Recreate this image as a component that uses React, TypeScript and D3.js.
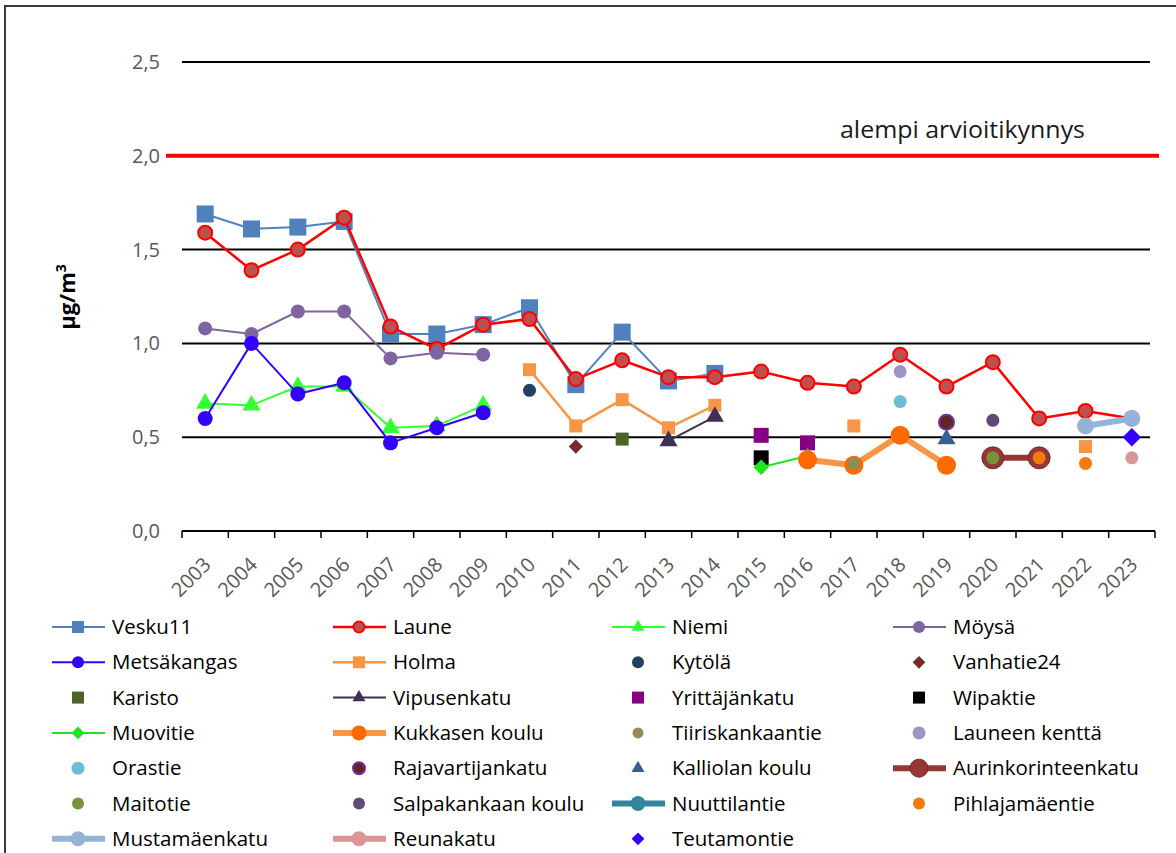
import React from 'react'
import * as d3 from 'd3'

type Val = number | null
const _ = null

const years = ['2003','2004','2005','2006','2007','2008','2009','2010','2011','2012','2013','2014','2015','2016','2017','2018','2019','2020','2021','2022','2023']
const yTicks = [0, 0.5, 1.0, 1.5, 2.0, 2.5]
const threshold = 2.0
const thresholdLabel = 'alempi arvioitikynnys'

// values per year, 2003..2023
const vesku11: Val[] = [1.69,1.61,1.62,1.65,1.05,1.05,1.10,1.19,0.78,1.06,0.80,0.84,_,_,_,_,_,_,_,_,_]
const laune: Val[] = [1.59,1.39,1.50,1.67,1.09,0.97,1.10,1.13,0.81,0.91,0.82,0.82,0.85,0.79,0.77,0.94,0.77,0.90,0.60,0.64,0.60]
const niemi: Val[] = [0.68,0.67,0.77,0.77,0.55,0.56,0.67,_,_,_,_,_,_,_,_,_,_,_,_,_,_]
const moysa: Val[] = [1.08,1.05,1.17,1.17,0.92,0.95,0.94,_,_,_,_,_,_,_,_,_,_,_,_,_,_]
const metsakangas: Val[] = [0.60,1.00,0.73,0.79,0.47,0.55,0.63,_,_,_,_,_,_,_,_,_,_,_,_,_,_]
const holma: Val[] = [_,_,_,_,_,_,_,0.86,0.56,0.70,0.55,0.67,_,_,0.56,_,_,_,_,0.45,_]
const kytola: Val[] = [_,_,_,_,_,_,_,0.75,_,_,_,_,_,_,_,_,_,_,_,_,_]
const vanhatie24: Val[] = [_,_,_,_,_,_,_,_,0.45,_,_,_,_,_,_,_,_,_,_,_,_]
const karisto: Val[] = [_,_,_,_,_,_,_,_,_,0.49,_,_,_,_,_,_,_,_,_,_,_]
const vipusenkatu: Val[] = [_,_,_,_,_,_,_,_,_,_,0.48,0.61,_,_,_,_,_,_,_,_,_]
const yrittajankatu: Val[] = [_,_,_,_,_,_,_,_,_,_,_,_,0.51,0.47,_,_,_,_,_,_,_]
const wipaktie: Val[] = [_,_,_,_,_,_,_,_,_,_,_,_,0.39,_,_,_,_,_,_,_,_]
const muovitie: Val[] = [_,_,_,_,_,_,_,_,_,_,_,_,0.34,0.40,_,_,_,_,_,_,_]
const kukkasen: Val[] = [_,_,_,_,_,_,_,_,_,_,_,_,_,0.38,0.35,0.51,0.35,_,_,_,_]
const tiiriskankaantie: Val[] = [_,_,_,_,_,_,_,_,_,_,_,_,_,_,0.36,_,_,_,_,_,_]
const launeenKentta: Val[] = [_,_,_,_,_,_,_,_,_,_,_,_,_,_,_,0.85,_,_,_,_,_]
const orastie: Val[] = [_,_,_,_,_,_,_,_,_,_,_,_,_,_,_,0.69,_,_,_,_,_]
const rajavartijankatu: Val[] = [_,_,_,_,_,_,_,_,_,_,_,_,_,_,_,_,0.58,_,_,_,_]
const kalliolanKoulu: Val[] = [_,_,_,_,_,_,_,_,_,_,_,_,_,_,_,_,0.49,_,_,_,_]
const aurinkorinteenkatu: Val[] = [_,_,_,_,_,_,_,_,_,_,_,_,_,_,_,_,_,0.39,0.39,_,_]
const maitotie: Val[] = [_,_,_,_,_,_,_,_,_,_,_,_,_,_,_,_,_,0.39,_,_,_]
const salpakankaan: Val[] = [_,_,_,_,_,_,_,_,_,_,_,_,_,_,_,_,_,0.59,_,_,_]
const nuuttilantie: Val[] = [_,_,_,_,_,_,_,_,_,_,_,_,_,_,_,_,_,_,_,_,_]
const pihlajamaentie: Val[] = [_,_,_,_,_,_,_,_,_,_,_,_,_,_,_,_,_,_,0.39,0.36,_]
const mustamaenkatu: Val[] = [_,_,_,_,_,_,_,_,_,_,_,_,_,_,_,_,_,_,_,0.56,0.60]
const reunakatu: Val[] = [_,_,_,_,_,_,_,_,_,_,_,_,_,_,_,_,_,_,_,_,0.39]
const teutamontie: Val[] = [_,_,_,_,_,_,_,_,_,_,_,_,_,_,_,_,_,_,_,_,0.50]

type Marker = 'square' | 'circle' | 'triangle' | 'diamond'
interface Series {
  name: string
  values: Val[]
  color: string
  line: number
  marker: Marker
  size: number
  legendSize: number
  fill: string
  stroke?: string
  strokeWidth?: number
}

const series: Series[] = [
  { name: 'Vesku11', values: vesku11, color: '#4F81BD', line: 2, marker: 'square', size: 17, legendSize: 12, fill: '#4F81BD' },
  { name: 'Laune', values: laune, color: '#FF0000', line: 2.5, marker: 'circle', size: 14, legendSize: 11, fill: '#C0504D', stroke: '#FF0000', strokeWidth: 2 },
  { name: 'Niemi', values: niemi, color: '#33FF33', line: 2, marker: 'triangle', size: 18, legendSize: 13, fill: '#33FF33' },
  { name: 'Möysä', values: moysa, color: '#8064A2', line: 2, marker: 'circle', size: 14, legendSize: 12, fill: '#8064A2' },
  { name: 'Metsäkangas', values: metsakangas, color: '#3300FF', line: 2, marker: 'circle', size: 15, legendSize: 12, fill: '#3300FF' },
  { name: 'Holma', values: holma, color: '#F79646', line: 2.5, marker: 'square', size: 13, legendSize: 12, fill: '#F79646' },
  { name: 'Kytölä', values: kytola, color: '#254061', line: 0, marker: 'circle', size: 13, legendSize: 12, fill: '#254061' },
  { name: 'Vanhatie24', values: vanhatie24, color: '#772C2A', line: 0, marker: 'diamond', size: 10, legendSize: 9, fill: '#772C2A' },
  { name: 'Karisto', values: karisto, color: '#4F6228', line: 0, marker: 'square', size: 13, legendSize: 12, fill: '#4F6228' },
  { name: 'Vipusenkatu', values: vipusenkatu, color: '#403152', line: 2, marker: 'triangle', size: 18, legendSize: 13, fill: '#403152' },
  { name: 'Yrittäjänkatu', values: yrittajankatu, color: '#860086', line: 0, marker: 'square', size: 15, legendSize: 12, fill: '#860086' },
  { name: 'Wipaktie', values: wipaktie, color: '#000000', line: 0, marker: 'square', size: 15, legendSize: 12, fill: '#000000' },
  { name: 'Muovitie', values: muovitie, color: '#1EE61E', line: 2, marker: 'diamond', size: 11, legendSize: 9, fill: '#1EE61E' },
  { name: 'Kukkasen koulu', values: kukkasen, color: '#F79646', line: 6, marker: 'circle', size: 19, legendSize: 15, fill: '#FF6A00' },
  { name: 'Tiiriskankaantie', values: tiiriskankaantie, color: '#948A54', line: 0, marker: 'circle', size: 13, legendSize: 11, fill: '#948A54' },
  { name: 'Launeen kenttä', values: launeenKentta, color: '#A092C6', line: 0, marker: 'circle', size: 13, legendSize: 13, fill: '#A092C6' },
  { name: 'Orastie', values: orastie, color: '#6CBDD5', line: 0, marker: 'circle', size: 13, legendSize: 13, fill: '#6CBDD5' },
  { name: 'Rajavartijankatu', values: rajavartijankatu, color: '#632523', line: 0, marker: 'circle', size: 15, legendSize: 12, fill: '#632523', stroke: '#7030A0', strokeWidth: 2 },
  { name: 'Kalliolan koulu', values: kalliolanKoulu, color: '#366092', line: 0, marker: 'triangle', size: 18, legendSize: 13, fill: '#366092' },
  { name: 'Aurinkorinteenkatu', values: aurinkorinteenkatu, color: '#953735', line: 6, marker: 'circle', size: 22, legendSize: 18, fill: '#953735', stroke: '#7B2C2A', strokeWidth: 1 },
  { name: 'Maitotie', values: maitotie, color: '#77933C', line: 0, marker: 'circle', size: 13, legendSize: 12, fill: '#77933C' },
  { name: 'Salpakankaan koulu', values: salpakankaan, color: '#604A7B', line: 0, marker: 'circle', size: 13, legendSize: 12, fill: '#604A7B' },
  { name: 'Nuuttilantie', values: nuuttilantie, color: '#31859C', line: 6, marker: 'circle', size: 15, legendSize: 15, fill: '#31859C' },
  { name: 'Pihlajamäentie', values: pihlajamaentie, color: '#F47A0C', line: 0, marker: 'circle', size: 13, legendSize: 12, fill: '#F47A0C' },
  { name: 'Mustamäenkatu', values: mustamaenkatu, color: '#95B3D7', line: 6, marker: 'circle', size: 17, legendSize: 15, fill: '#95B3D7' },
  { name: 'Reunakatu', values: reunakatu, color: '#D99694', line: 6, marker: 'circle', size: 13, legendSize: 15, fill: '#D99694' },
  { name: 'Teutamontie', values: teutamontie, color: '#3300FF', line: 0, marker: 'diamond', size: 13, legendSize: 9, fill: '#3300FF' },
]

const W = 1176
const H = 853
const font = "'Open Sans', 'Liberation Sans', sans-serif"

const x = d3.scaleBand<string>().domain(years).range([182, 1155]).padding(0)
const y = d3.scaleLinear().domain([0, 2.5]).range([531, 62])
const cx = (yr: string) => (x(yr) as number) + x.bandwidth() / 2

function markerPath(m: Marker, s: number): string {
  if (m === 'circle') return d3.symbol().type(d3.symbolCircle).size(Math.PI * (s / 2) ** 2)() as string
  if (m === 'triangle') return d3.symbol().type(d3.symbolTriangle).size((s * s * Math.sqrt(3)) / 4)() as string
  return d3.symbol().type(d3.symbolSquare).size(s * s)() as string
}

const MarkerMark: React.FC<{ s: Series; px: number; py: number; size: number }> = ({ s, px, py, size }) => (
  <path
    d={markerPath(s.marker, size)}
    transform={`translate(${px},${py})${s.marker === 'diamond' ? ' rotate(45)' : ''}`}
    fill={s.fill}
    stroke={s.stroke ?? 'none'}
    strokeWidth={s.strokeWidth ?? 0}
  />
)

const legendCols = [52, 333, 612, 893]
const legendRow0 = 627
const legendRowStep = 35.3

export default function App() {
  const line = d3.line<{ yr: string; v: Val }>()
    .defined(d => d.v != null)
    .x(d => cx(d.yr))
    .y(d => y(d.v as number))

  return (
    <svg width={W} height={H} style={{ position: 'absolute', left: 0, top: 0, background: '#fff' }} fontFamily={font}>
      <rect x={5} y={6} width={W + 20} height={H + 20} fill="#fff" stroke="#3a3a3a" strokeWidth={2} />

      {/* grid lines */}
      {yTicks.filter(t => t > 0).map(t => (
        <line key={t} x1={182} x2={1150} y1={y(t)} y2={y(t)} stroke="#000" strokeWidth={2} />
      ))}
      {yTicks.map(t => (
        <text key={'l' + t} x={160} y={y(t)} dy="0.35em" textAnchor="end" fontSize={20} fill="#595959">
          {d3.format('.1f')(t).replace('.', ',')}
        </text>
      ))}

      {/* x axis */}
      <line x1={182} x2={1155} y1={y(0)} y2={y(0)} stroke="#000" strokeWidth={2} />
      {[...years.map(yr => x(yr) as number), 1155].map((tx, i) => (
        <line key={'t' + i} x1={tx} x2={tx} y1={y(0)} y2={y(0) + 7} stroke="#000" strokeWidth={1.5} />
      ))}
      {years.map(yr => (
        <text key={'x' + yr} transform={`translate(${cx(yr) + 7},${y(0) + 35}) rotate(-45)`} textAnchor="end" fontSize={20} fill="#595959">
          {yr}
        </text>
      ))}

      {/* threshold */}
      <line x1={166} x2={1159} y1={y(threshold)} y2={y(threshold)} stroke="#FF0000" strokeWidth={4} />
      <text x={840} y={y(threshold) - 18} fontSize={23} textLength={245} lengthAdjust="spacingAndGlyphs" fill="#1a1a1a">{thresholdLabel}</text>

      {/* y title */}
      <text transform={`translate(67,297) rotate(-90)`} textAnchor="middle" dy="0.35em" fontSize={22} fontWeight="bold" fill="#000">
        µg/m<tspan dy="-9" fontSize={14}>3</tspan>
      </text>

      {/* series */}
      {series.map(s => {
        const pts = years.map((yr, i) => ({ yr, v: s.values[i] }))
        return (
          <g key={s.name}>
            {s.line > 0 && <path d={line(pts) ?? ''} fill="none" stroke={s.color} strokeWidth={s.line} strokeLinejoin="round" />}
            {pts.filter(p => p.v != null).map(p => (
              <MarkerMark key={p.yr} s={s} px={cx(p.yr)} py={y(p.v as number)} size={s.size} />
            ))}
          </g>
        )
      })}

      {/* legend */}
      {series.map((s, i) => {
        const lx = legendCols[i % 4]
        const ly = legendRow0 + Math.floor(i / 4) * legendRowStep
        return (
          <g key={'lg' + s.name}>
            {s.line > 0 && <line x1={lx} x2={lx + 53} y1={ly} y2={ly} stroke={s.color} strokeWidth={s.line} />}
            <MarkerMark s={s} px={lx + 26} py={ly} size={s.legendSize} />
            <text x={lx + 60} y={ly} dy="0.35em" fontSize={20.5} fill="#000">{s.name}</text>
          </g>
        )
      })}
    </svg>
  )
}
